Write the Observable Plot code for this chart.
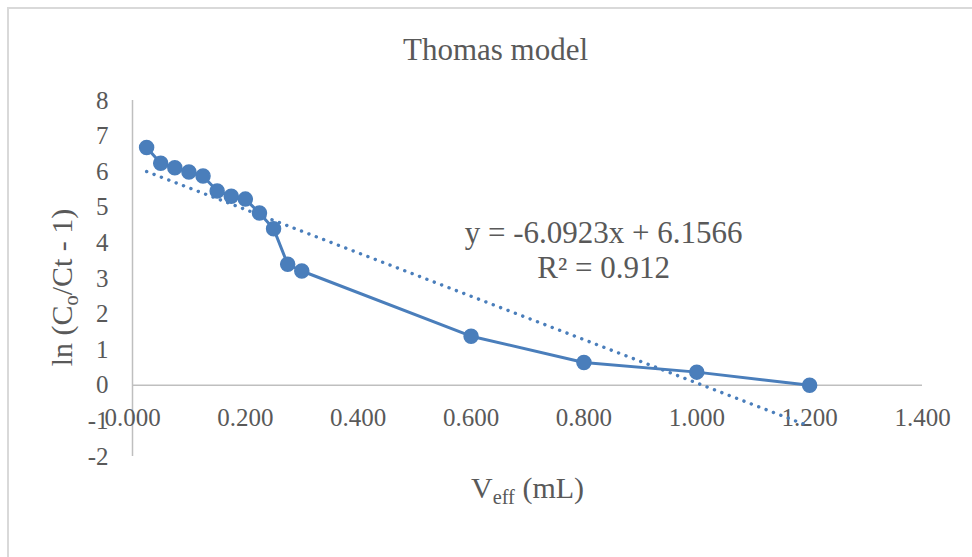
<!DOCTYPE html>
<html>
<head>
<meta charset="utf-8">
<script src="https://cdn.jsdelivr.net/npm/d3@7"></script>
<script src="https://cdn.jsdelivr.net/npm/@observablehq/plot@0.6"></script>
<style>
  html, body { margin: 0; padding: 0; background: #fff; overflow: hidden; }
  #wrap { position: relative; width: 972px; height: 557px; }
  #border { position: absolute; left: 7px; top: 7px; width: 1000px; height: 600px; border: 2px solid #d9d9d9; box-sizing: border-box; }
  #chart { position: absolute; left: 0; top: 0; }
</style>
</head>
<body>
<div id="wrap"><div id="border"></div><div id="chart"></div></div>
<script>
const title = "Thomas model";
const xLabel = "Veff (mL)";
const yLabel = "ln (Co/Ct - 1)";
const vEff = [0.025, 0.05, 0.075, 0.1, 0.125, 0.15, 0.175, 0.2, 0.225, 0.25, 0.275, 0.3, 0.6, 0.8, 1.0, 1.2];
const lnValues = [6.68, 6.24, 6.11, 5.99, 5.88, 5.46, 5.31, 5.23, 4.84, 4.40, 3.40, 3.21, 1.38, 0.64, 0.37, 0.00];
const slope = -6.0923;
const intercept = 6.1566;
const r2 = 0.912;
const xTicks = [0, 0.2, 0.4, 0.6, 0.8, 1.0, 1.2, 1.4];
const yTicks = [-2, -1, 0, 1, 2, 3, 4, 5, 6, 7, 8];

const points = vEff.map((x, i) => ({x, y: lnValues[i]}));
const trend = [vEff[0], vEff[vEff.length - 1]].map(x => ({x, y: slope * x + intercept}));
const eqText = `y = ${slope}x + ${intercept}\nR² = ${r2}`;

const blue = "#4a7ebb";
const grey = "#595959";
const axisGrey = "#bfbfbf";

const chart = Plot.plot({
  width: 972,
  height: 557,
  marginLeft: 132,
  marginRight: 50,
  marginTop: 100,
  marginBottom: 101,
  x: {domain: [0, 1.4], axis: null},
  y: {domain: [-2, 8], axis: null},
  style: {fontFamily: "'Liberation Serif', 'Times New Roman', serif", color: grey, background: "transparent"},
  marks: [
    Plot.ruleY([0], {stroke: axisGrey, strokeWidth: 1.5}),
    Plot.ruleX([0], {y1: -2, y2: 8, stroke: axisGrey, strokeWidth: 1.5}),
    Plot.axisY(yTicks, {tickSize: 0, tickPadding: 24, fontSize: 25, fill: grey, label: null, tickFormat: d => String(d)}),
    Plot.text(xTicks, {x: d => d, y: d => 0, dy: 33, text: d => d.toFixed(3), fontSize: 25, fill: grey}),
    Plot.line(trend, {x: "x", y: "y", stroke: blue, strokeWidth: 3.4, strokeDasharray: "0.1,7.8", strokeLinecap: "round"}),
    Plot.line(points, {x: "x", y: "y", stroke: blue, strokeWidth: 3}),
    Plot.dot(points, {x: "x", y: "y", r: 7, fill: blue, stroke: blue}),
    Plot.text([eqText], {x: () => 0.835, y: () => 3.82, text: d => d, fontSize: 31, lineHeight: 1.13, fill: grey, textAnchor: "middle"}),
    Plot.text([title], {frameAnchor: "top", dx: -32, dy: -50, lineAnchor: "middle", text: d => d, fontSize: 31, fill: grey}),
    Plot.text([xLabel], {frameAnchor: "bottom", dy: 32, lineAnchor: "middle", text: d => d, fontSize: 30, fill: grey, className: "xlab"}),
    Plot.text([yLabel], {frameAnchor: "left", dx: -70, dy: 9, rotate: -90, textAnchor: "middle", lineAnchor: "middle", text: d => d, fontSize: 30, fill: grey, className: "ylab"})
  ]
});

function subscriptify(sel, parts) {
  const t = chart.querySelector(sel + " text");
  if (!t) return;
  while (t.firstChild) t.removeChild(t.firstChild);
  const ns = "http://www.w3.org/2000/svg";
  parts.forEach(([str, sub]) => {
    const ts = document.createElementNS(ns, "tspan");
    ts.textContent = str;
    if (sub === 1) { ts.setAttribute("dy", "0.3em"); ts.setAttribute("font-size", "0.68em"); }
    if (sub === -1) { ts.setAttribute("dy", "-0.2em"); }
    t.appendChild(ts);
  });
}
subscriptify(".xlab", [["V", 0], ["eff", 1], [" (mL)", -1]]);
subscriptify(".ylab", [["ln (C", 0], ["o", 1], ["/Ct - 1)", -1]]);

document.getElementById("chart").appendChild(chart);
</script>
</body>
</html>
